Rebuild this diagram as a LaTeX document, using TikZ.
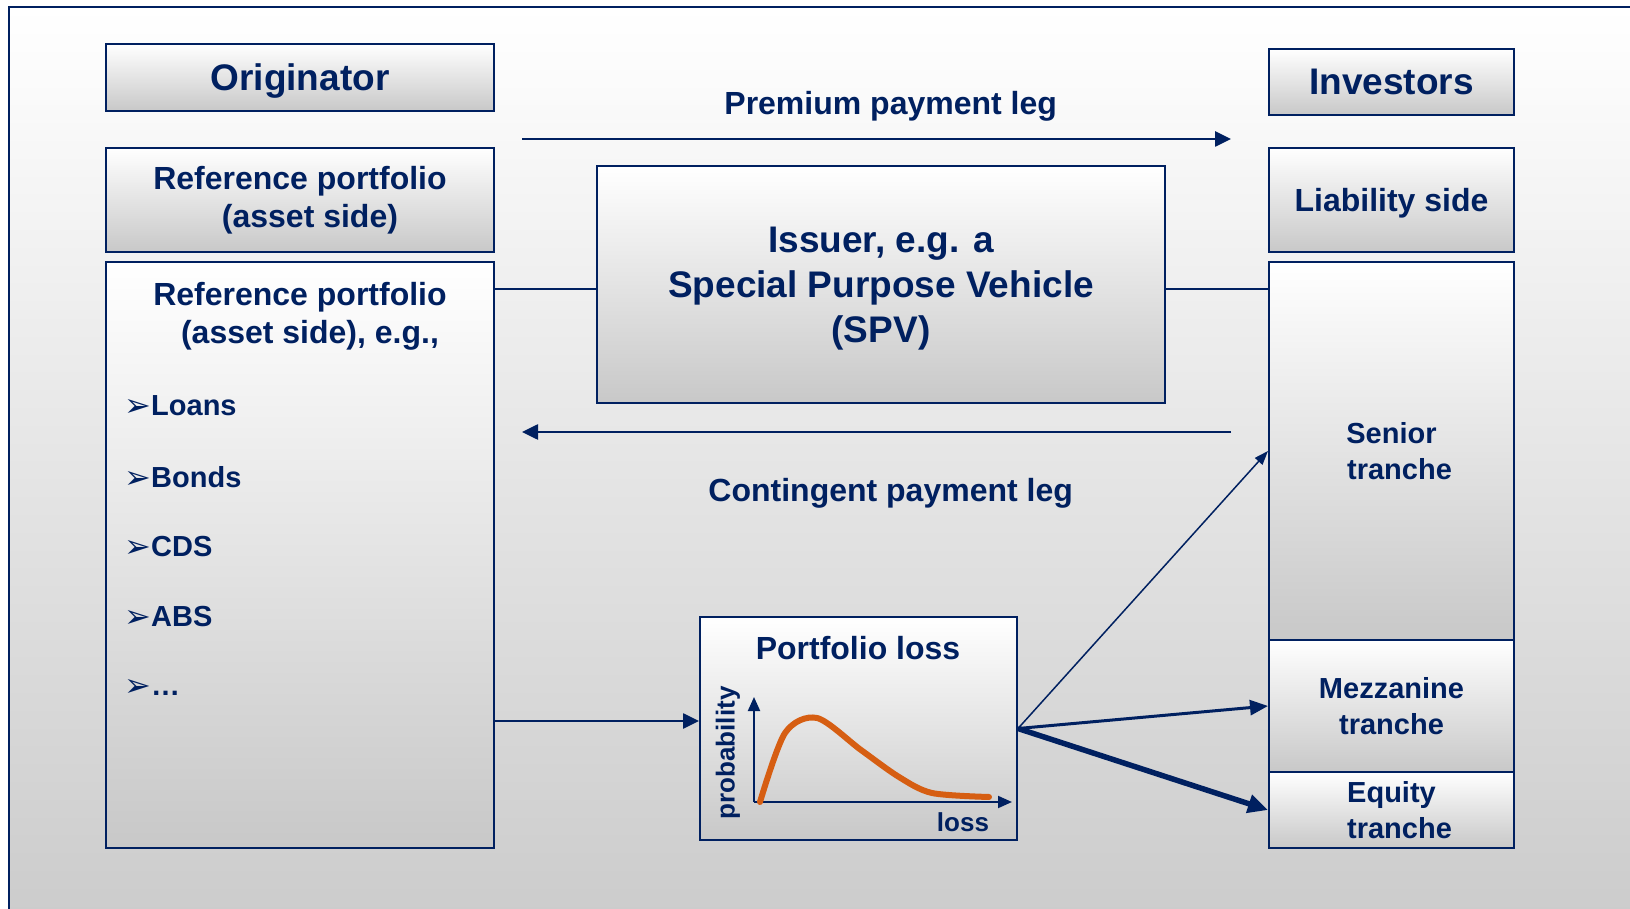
\documentclass[tikz,border=0pt]{standalone}
\usepackage{fontspec}
\setmainfont{Liberation Sans}
\newfontfamily\symfont{DejaVu Sans}
\usepackage{tikz}
\usetikzlibrary{arrows.meta}
\definecolor{navyblue}{RGB}{0,32,96}
\definecolor{boxgray}{RGB}{200,200,200}
\definecolor{backgray}{RGB}{204,204,204}
\definecolor{lossorange}{RGB}{214,94,18}
\newcommand{\hdfont}{\fontsize{18.5}{22.5}\selectfont\bfseries}
\newcommand{\lbfont}{\fontsize{16}{19}\selectfont\bfseries}
\newcommand{\trfont}{\fontsize{14.5}{18}\selectfont\bfseries}
\newcommand{\axfont}{\fontsize{13}{15}\selectfont\bfseries}
\newcommand{\itm}{\raisebox{-0.5pt}{\symfont\fontsize{16}{16}\selectfont ➢}}

\begin{document}
\begin{tikzpicture}[x=0.5pt,y=-0.5pt,
  box/.style={draw=navyblue, line width=1pt, top color=white, bottom color=boxgray, text=navyblue, align=center, inner sep=0pt, text depth=0pt},
  lbl/.style={text=navyblue, align=center, inner sep=0pt},
  link/.style={draw=navyblue, line width=1pt},
  arr/.style={draw=navyblue, line width=1.3pt, -{Triangle[length=8pt,width=7.5pt]}},
  axis/.style={draw=navyblue, line width=1pt, -{Triangle[length=7pt,width=6pt]}}]
\useasboundingbox (0,0) rectangle (1630,909);
\clip (0,0) rectangle (1630,909);
\fill[white] (0,0) rectangle (1630,909);
\path[draw=navyblue, line width=1pt, top color=white, bottom color=backgray] (9,7) rectangle (1645,915);
% originator side
\node[box, minimum width=194pt, minimum height=33.5pt, font=\hdfont] (orig) at (300,77.5) {Originator};
\node[box, minimum width=194pt, minimum height=52pt, font=\lbfont, text depth=3.4pt] (refhead) at (300,200) {Reference portfolio\\\hspace*{10pt}(asset side)};
\node[box, minimum width=194pt, minimum height=293pt] (refport) at (300,555) {};
\node[lbl, font=\lbfont, text depth=0pt] (reftitle) at (300,313) {Reference portfolio\\\hspace*{10pt}(asset side), e.g.,};
\node[lbl, font=\trfont, anchor=west] (loans) at (124,406) {\itm Loans};
\node[lbl, font=\trfont, anchor=west] (bonds) at (124,477) {\itm Bonds};
\node[lbl, font=\trfont, anchor=west] (cds) at (124,547) {\itm CDS};
\node[lbl, font=\trfont, anchor=west] (abs) at (124,617) {\itm ABS};
\node[lbl, font=\trfont, anchor=west] (etc) at (124,688) {\itm …};
% investor side
\node[box, minimum width=122.5pt, minimum height=33pt, font=\hdfont] (inv) at (1391.5,82) {Investors};
\node[box, minimum width=122.5pt, minimum height=52pt, font=\lbfont] (liab) at (1391.5,200) {Liability side};
\node[box, minimum width=122.5pt, minimum height=189pt, font=\trfont] (senior) at (1391.5,451) {Senior\\\hspace*{8pt}tranche};
\node[box, minimum width=122.5pt, minimum height=66pt, font=\trfont] (mezz) at (1391.5,706) {Mezzanine\\tranche};
\node[box, minimum width=122.5pt, minimum height=38pt, font=\trfont] (equity) at (1391.5,810) {Equity\\\hspace*{8pt}tranche};
% issuer
\node[box, minimum width=284pt, minimum height=118.5pt, font=\hdfont] (spv) at (881,284.5) {Issuer, e.g. a\\Special Purpose Vehicle\\(SPV)};
\coordinate (spvin) at ([yshift=-2.25pt]spv.west);
\coordinate (spvout) at ([yshift=-2.25pt]spv.east);
\draw[link] (refport.east |- spvin) -- (spvin);
\draw[link] (spvout) -- (senior.west |- spvout);
% payment legs
\coordinate (premL) at (522,139);
\coordinate (premR) at (1231,139);
\draw[arr] (premL) -- (premR) node[lbl, font=\lbfont, text depth=0pt, pos=0.52, yshift=18pt] (premlbl) {Premium payment leg};
\coordinate (contR) at (1231,432);
\coordinate (contL) at (522,432);
\draw[arr] (contR) -- (contL) node[lbl, font=\lbfont, text depth=0pt, pos=0.48, yshift=-29pt] (contlbl) {Contingent payment leg};
% portfolio loss
\node[box, minimum width=158.5pt, minimum height=111.5pt] (loss) at (858.5,728.5) {};
\node[lbl, font=\lbfont] (losstitle) at (858,648) {Portfolio loss};
\coordinate (origin) at (754,802);
\draw[axis] (origin) -- (754,697);
\draw[axis] (origin) -- (1012,802);
\draw[lossorange, line width=3pt, line cap=round] plot[smooth] coordinates {(760,802) (785,733) (817,718) (861,750) (899,777) (932,793) (989,797)};
\node[lbl, font=\axfont, rotate=90] (probl) at (728,753) {probability};
\node[lbl, font=\axfont] (lossl) at (963,822) {loss};
\coordinate (lossin) at ([yshift=3.75pt]loss.west);
\draw[arr] (refport.east |- lossin) -- (lossin);
% tranches
\draw[navyblue, line width=0.75pt, -{Triangle[length=7pt,width=5pt]}] (loss.east) -- (senior.west);
\draw[navyblue, line width=1.5pt, -{Triangle[length=9pt,width=7.5pt]}] (loss.east) -- (mezz.west);
\draw[navyblue, line width=2.75pt, -{Triangle[length=10pt,width=9pt]}] (loss.east) -- (equity.west);
\end{tikzpicture}
\end{document}
